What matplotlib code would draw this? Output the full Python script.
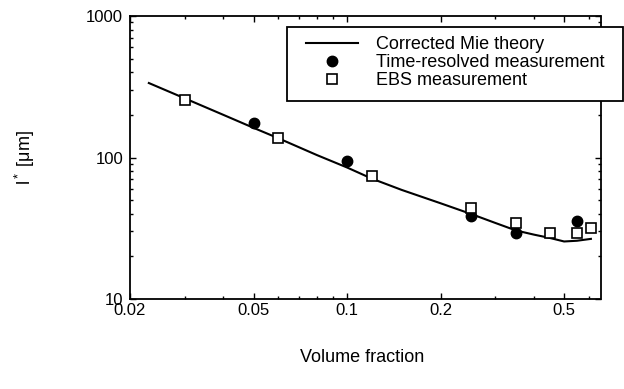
import numpy as np
import matplotlib
matplotlib.use("Agg")
import matplotlib.pyplot as plt
from matplotlib.patches import Rectangle
from matplotlib.ticker import LogLocator, FixedLocator, FixedFormatter, NullFormatter

plt.rcParams['font.family'] = ['Liberation Sans', 'DejaVu Sans']
plt.rcParams['mathtext.fontset'] = 'custom'
plt.rcParams['mathtext.rm'] = 'Liberation Sans'
plt.rcParams['mathtext.it'] = 'Liberation Sans:italic'

# corrected Mie theory curve
theory_x = [0.023, 0.03, 0.04, 0.05, 0.06, 0.08, 0.1, 0.12, 0.15, 0.2, 0.25, 0.3, 0.35, 0.4, 0.45, 0.5, 0.55, 0.61]
theory_y = [336, 262, 200, 162, 137, 104, 85, 71, 59, 47.5, 40, 34.5, 30.5, 28.5, 27, 25.5, 25.8, 26.6]

# time-resolved measurement
tr_x = [0.05, 0.1, 0.25, 0.35, 0.55]
tr_y = [175, 94, 38.6, 29.5, 35.6]

# EBS measurement
ebs_x = [0.03, 0.06, 0.12, 0.25, 0.35, 0.45, 0.55, 0.61]
ebs_y = [255, 137, 74, 44, 34.4, 29.3, 29.5, 31.8]

xticks = [0.02, 0.05, 0.1, 0.2, 0.5]
xtick_labels = ['0.02', '0.05', '0.1', '0.2', '0.5']
yticks = [10, 100, 1000]
ytick_labels = ['10', '100', '1000']

W, H = 624, 389
fig = plt.figure(figsize=(W / 100, H / 100), dpi=100)
ax = fig.add_axes([130 / W, 1 - 299 / H, 470.5 / W, 283 / H])

ax.plot(theory_x, theory_y, color='black', lw=1.5, label='Corrected Mie theory')
ax.plot(tr_x, tr_y, 'o', color='black', ms=7.5, label='Time-resolved measurement')
ax.plot(ebs_x, ebs_y, 's', mfc='white', mec='black', mew=1.2, ms=6.5, label='EBS measurement')

ax.set_xscale('log')
ax.set_yscale('log')
ax.set_xlim(0.02, 0.655)
ax.set_ylim(10, 1000)

ax.xaxis.set_major_locator(FixedLocator(xticks))
ax.xaxis.set_major_formatter(FixedFormatter(xtick_labels))
ax.xaxis.set_minor_locator(LogLocator(base=10, subs=np.arange(2, 10)))
ax.xaxis.set_minor_formatter(NullFormatter())
ax.yaxis.set_major_locator(FixedLocator(yticks))
ax.yaxis.set_major_formatter(FixedFormatter(ytick_labels))
ax.yaxis.set_minor_locator(LogLocator(base=10, subs=np.arange(2, 10)))
ax.yaxis.set_minor_formatter(NullFormatter())

ax.tick_params(which='both', direction='in', top=True, right=True, width=1)
ax.tick_params(which='major', length=4, labelsize=12)
ax.tick_params(which='minor', length=2.5)
ax.tick_params(axis='x', pad=3)
ax.tick_params(axis='y', pad=5)
for s in ax.spines.values():
    s.set_linewidth(1.3)

fig.text(362 / W, 1 - 358 / H, 'Volume fraction', fontsize=13, ha='center', va='center')
fig.text(25 / W, 1 - 158 / H, 'l$^*$ [μm]', fontsize=13, ha='center', va='center', rotation=90)

# legend frame drawn separately so it can stick out past the right spine
frame = Rectangle((287 / W, 1 - 101 / H), 336 / W, 74 / H, transform=fig.transFigure,
                  facecolor='white', edgecolor='black', lw=1.3, zorder=4, clip_on=False)
ax.add_patch(frame)
leg = ax.legend(loc='upper left', bbox_to_anchor=(306 / W, 1 - 36 / H),
                bbox_transform=fig.transFigure, fontsize=13, frameon=False,
                borderaxespad=0, borderpad=0, labelspacing=0.06,
                handlelength=2.9, handletextpad=1.0, numpoints=1)
leg.set_zorder(5)

fig.savefig('out.png', dpi=100)
